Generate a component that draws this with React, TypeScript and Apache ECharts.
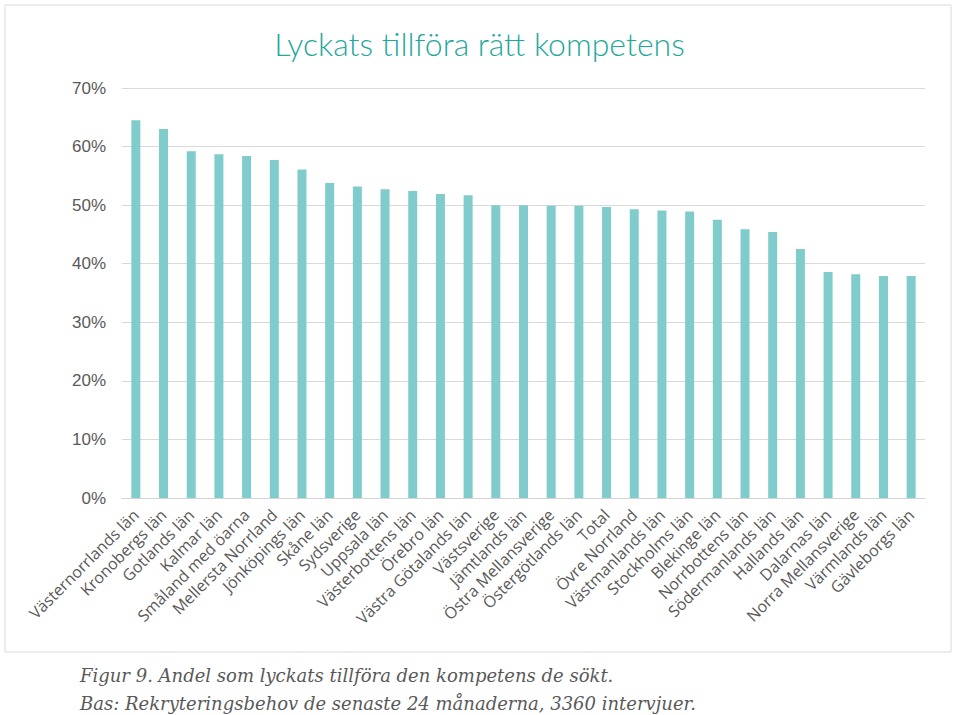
import React, { useEffect, useRef } from "react";
import * as echarts from "echarts";

const categories = [
  "Västernorrlands län", "Kronobergs län", "Gotlands län", "Kalmar län", "Småland med öarna",
  "Mellersta Norrland", "Jönköpings län", "Skåne län", "Sydsverige", "Uppsala län",
  "Västerbottens län", "Örebro län", "Västra Götalands län", "Västsverige", "Jämtlands län",
  "Östra Mellansverige", "Östergötlands län", "Total", "Övre Norrland", "Västmanlands län",
  "Stockholms län", "Blekinge län", "Norrbottens län", "Södermanlands län", "Hallands län",
  "Dalarnas län", "Norra Mellansverige", "Värmlands län", "Gävleborgs län",
];
const values = [
  64.5, 63.0, 59.2, 58.7, 58.4, 57.7, 56.1, 53.8, 53.2, 52.7,
  52.4, 51.9, 51.7, 50.0, 50.0, 49.9, 49.9, 49.7, 49.3, 49.1,
  48.9, 47.5, 45.9, 45.4, 42.5, 38.6, 38.2, 37.9, 37.9,
];
const yTicks = [0, 10, 20, 30, 40, 50, 60, 70];
const titleText = "Lyckats tillföra rätt kompetens";
const captionLines = [
  "Figur 9. Andel som lyckats tillföra den kompetens de sökt.",
  "Bas: Rekryteringsbehov de senaste 24 månaderna, 3360 intervjuer.",
];

export default function App() {
  const ref = useRef<HTMLDivElement>(null);
  useEffect(() => {
    document.body.style.margin = "0";
    const chart = echarts.init(ref.current!, null, { renderer: "svg" });
    chart.setOption({
      animation: false,
      backgroundColor: "#ffffff",
      title: {
        text: titleText,
        left: "center",
        top: 22,
        textStyle: { color: "#1fa89c", fontSize: 32, fontWeight: 300, fontFamily: "Lato" },
      },
      grid: { left: 122, right: 34, top: 88, bottom: 217 },
      xAxis: {
        type: "category",
        data: categories,
        axisTick: { show: false },
        axisLine: { lineStyle: { color: "#d4d4d4", width: 1 } },
        axisLabel: {
          rotate: 45,
          interval: 0,
          margin: 14,
          color: "#595959",
          fontSize: 16,
          fontFamily: "Open Sans",
        },
      },
      yAxis: {
        type: "value",
        min: yTicks[0],
        max: yTicks[yTicks.length - 1],
        interval: 10,
        axisLine: { show: false },
        axisTick: { show: false },
        splitLine: { lineStyle: { color: "#d9d9d9", width: 1 } },
        axisLabel: {
          formatter: "{value}%",
          color: "#595959",
          fontSize: 17,
          fontFamily: "Liberation Sans",
          margin: 16,
        },
      },
      series: [
        {
          type: "bar",
          data: values,
          barWidth: 9,
          itemStyle: { color: "#80cbcb" },
        },
      ],
      graphic: [
        {
          type: "rect",
          shape: { x: 5, y: 5, width: 946, height: 647 },
          style: { fill: "none", stroke: "#d9d9d9", lineWidth: 1 },
          silent: true,
        },
        {
          type: "text",
          left: 80,
          top: 666,
          style: {
            text: captionLines[0],
            fill: "#595959",
            font: "italic 18px 'DejaVu Serif'",
          },
        },
        {
          type: "text",
          left: 80,
          top: 694,
          style: {
            text: captionLines[1],
            fill: "#595959",
            font: "italic 18px 'DejaVu Serif'",
          },
        },
      ],
    });
    return () => chart.dispose();
  }, []);
  return <div ref={ref} style={{ width: 959, height: 715, position: "absolute", left: 0, top: 0 }} />;
}
